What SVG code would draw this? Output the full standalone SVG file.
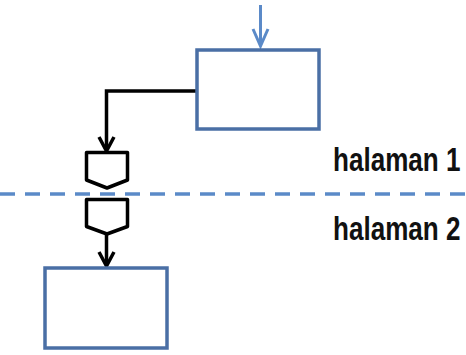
<svg xmlns="http://www.w3.org/2000/svg" width="466" height="355" viewBox="0 0 466 355">
  <style>
    .box { fill: #ffffff; stroke: #4a6fa5; stroke-width: 3.5; }
    .off { fill: #ffffff; stroke: #000000; stroke-width: 3.5; stroke-linejoin: round; }
    .blk { fill: none; stroke: #000000; stroke-width: 3.5; }
    .blu { fill: none; stroke: #5b8ac8; stroke-width: 3; }
    .lbl { font-family: "Liberation Sans", Arial, sans-serif; font-weight: bold; font-size: 33px; fill: #111111; }
  </style>
  <rect width="466" height="355" fill="#ffffff"/>
  <line x1="0" y1="194" x2="466" y2="194" stroke="#5b8ac8" stroke-width="3.5" stroke-dasharray="15 10"/>
  <g id="connectors">
    <line class="blu" x1="260.5" y1="5" x2="260.5" y2="46"/>
    <polyline class="blu" points="253,29 260.5,46 268,29"/>
    <polyline class="blk" points="197,91 106.5,91 106.5,150"/>
    <polyline class="blk" points="99,137 106.5,151 114,137"/>
    <line class="blk" x1="106.5" y1="234" x2="106.5" y2="265"/>
    <polyline class="blk" points="99,252 106.5,266 114,252"/>
  </g>
  <g id="process1"><rect class="box" x="197" y="50" width="122" height="79"/></g>
  <g id="offpage1"><polygon class="off" points="86.5,152.5 127.5,152.5 127.5,180 107,188 86.5,180"/></g>
  <g id="offpage2"><polygon class="off" points="86.5,199.5 127.5,199.5 127.5,226.5 107,234 86.5,226.5"/></g>
  <g id="process2"><rect class="box" x="45" y="268" width="122" height="80"/></g>
  <g id="label1"><text class="lbl" transform="translate(333,171) scale(0.79,1)" x="0" y="0">halaman 1</text></g>
  <g id="label2"><text class="lbl" transform="translate(333,240) scale(0.79,1)" x="0" y="0">halaman 2</text></g>
</svg>
